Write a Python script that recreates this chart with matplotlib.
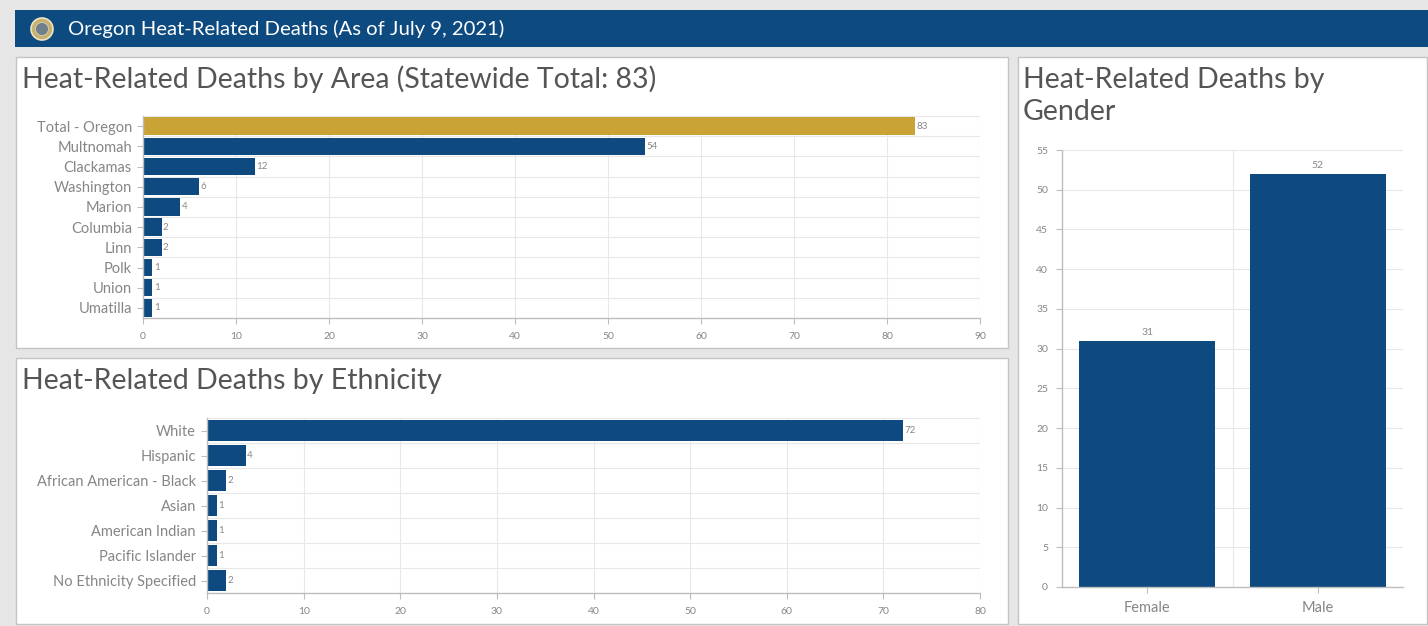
"""
plot.py
=======
Oregon heat-related deaths dashboard (as of July 9, 2021).
"""

import matplotlib
matplotlib.use("Agg")
import matplotlib.pyplot as plt
from matplotlib.patches import Rectangle, Ellipse


# ---------------------------------------------------------------------------
# Data
# ---------------------------------------------------------------------------

area_names = ["Total - Oregon", "Multnomah", "Clackamas", "Washington", "Marion",
              "Columbia", "Linn", "Polk", "Union", "Umatilla"]
area_deaths = [83, 54, 12, 6, 4, 2, 2, 1, 1, 1]

ethnicity_names = ["White", "Hispanic", "African American - Black", "Asian",
                   "American Indian", "Pacific Islander", "No Ethnicity Specified"]
ethnicity_deaths = [72, 4, 2, 1, 1, 1, 2]

gender_names = ["Female", "Male"]
gender_deaths = [31, 52]

area_ticks = list(range(0, 91, 10))
ethnicity_ticks = list(range(0, 81, 10))
gender_ticks = list(range(0, 56, 5))


# ---------------------------------------------------------------------------
# Styling
# ---------------------------------------------------------------------------

W, H = 1428, 626
BLUE = "#0e4a7f"
GOLD = "#c9a336"
BG = "#e6e6e6"
TITLE_C = "#555555"
LABEL_C = "#868686"
GRID_C = "#e8e8e8"
SPINE_C = "#bdbdbd"

plt.rcParams["font.family"] = ["Lato", "DejaVu Sans"]


def box(x0, y0, x1, y1):
    """Pixel box (top-left origin) -> figure rect [left, bottom, width, height]."""
    return [x0 / W, 1 - y1 / H, (x1 - x0) / W, (y1 - y0) / H]


def panel(fig, x0, y0, x1, y1):
    l, b, w, h = box(x0, y0, x1, y1)
    fig.patches.append(Rectangle((l, b), w, h, transform=fig.transFigure,
                                 facecolor="white", edgecolor="#c4c4c4",
                                 linewidth=1, zorder=-2))


def style_axes(ax):
    ax.set_facecolor("none")
    for side in ("top", "right"):
        ax.spines[side].set_visible(False)
    for side in ("left", "bottom"):
        ax.spines[side].set_color(SPINE_C)
        ax.spines[side].set_linewidth(1)
    ax.tick_params(colors=SPINE_C, labelcolor=LABEL_C, length=4, width=0.8)
    ax.set_axisbelow(True)


def hbar_chart(ax, names, values, colors, ticks):
    n = len(names)
    pos = list(range(n))
    ax.barh(pos, values, height=0.86, color=colors, zorder=2)
    ax.set_ylim(n - 0.5, -0.5)
    ax.set_xlim(ticks[0], ticks[-1])
    ax.set_yticks(pos)
    ax.set_yticklabels(names, fontsize=10.5)
    ax.set_xticks(ticks)
    ax.set_xticklabels([str(t) for t in ticks], fontsize=7.5)
    ax.tick_params(axis="x", pad=6)
    ax.tick_params(axis="y", pad=4)
    # vertical grid at x ticks, horizontal grid between categories
    for t in ticks[1:]:
        ax.axvline(t, color=GRID_C, linewidth=0.8, zorder=0)
    for k in range(n):
        ax.axhline(k - 0.5, color=GRID_C, linewidth=0.8, zorder=0)
    for p, v in zip(pos, values):
        ax.text(v + 0.15, p, str(v), va="center", ha="left",
                fontsize=7, color="#888888", zorder=3)
    style_axes(ax)


# ---------------------------------------------------------------------------
# Figure
# ---------------------------------------------------------------------------

fig = plt.figure(figsize=(W / 100, H / 100), dpi=100)
fig.patch.set_facecolor(BG)

# header bar
l, b, w, h = box(15, 10, 1428, 47)
fig.patches.append(Rectangle((l, b), w, h, transform=fig.transFigure,
                             facecolor="#0d4a80", edgecolor="none", zorder=-2))
fig.patches.append(Ellipse((42 / W, 1 - 29 / H), 22 / W, 22 / H,
                           transform=fig.transFigure, facecolor="#c8b070",
                           edgecolor="#ece4c4", linewidth=1.2, zorder=-1))
fig.patches.append(Ellipse((42 / W, 1 - 29 / H), 13 / W, 13 / H,
                           transform=fig.transFigure, facecolor="#6f7f8c",
                           edgecolor="#d8d0b0", linewidth=0.6, zorder=-1))
fig.text(68 / W, 1 - 29 / H, "Oregon Heat-Related Deaths (As of July 9, 2021)",
         color="white", fontsize=14.6, va="center", ha="left")

# panels
panel(fig, 16, 57, 1008, 348)
panel(fig, 16, 358, 1008, 624)
panel(fig, 1018, 57, 1427, 624)

# panel titles
fig.text(22 / W, 1 - 79 / H, "Heat-Related Deaths by Area (Statewide Total: 83)",
         color=TITLE_C, fontsize=20.5, va="center", ha="left")
fig.text(22 / W, 1 - 381 / H, "Heat-Related Deaths by Ethnicity",
         color=TITLE_C, fontsize=20.5, va="center", ha="left")
fig.text(1023 / W, 1 - 96 / H, "Heat-Related Deaths by\nGender",
         color=TITLE_C, fontsize=20.5, va="center", ha="left", linespacing=1.3)

# area chart
ax1 = fig.add_axes(box(143, 116, 980, 318))
hbar_chart(ax1, area_names, area_deaths,
           [GOLD] + [BLUE] * (len(area_names) - 1), area_ticks)

# ethnicity chart
ax2 = fig.add_axes(box(207, 418, 980, 593))
hbar_chart(ax2, ethnicity_names, ethnicity_deaths,
           [BLUE] * len(ethnicity_names), ethnicity_ticks)

# gender chart
ax3 = fig.add_axes(box(1062, 150, 1403, 587))
gpos = list(range(len(gender_names)))
ax3.bar(gpos, gender_deaths, width=0.8, color=BLUE, zorder=2)
ax3.set_xlim(-0.5, len(gender_names) - 0.5)
ax3.set_ylim(gender_ticks[0], gender_ticks[-1])
ax3.set_yticks(gender_ticks)
ax3.set_yticklabels([str(t) for t in gender_ticks], fontsize=7.5)
ax3.set_xticks(gpos)
ax3.set_xticklabels(gender_names, fontsize=10.5)
ax3.tick_params(axis="x", pad=6)
ax3.tick_params(axis="y", pad=6)
for t in gender_ticks[1:]:
    ax3.axhline(t, color=GRID_C, linewidth=0.8, zorder=0)
for k in range(1, len(gender_names)):
    ax3.axvline(k - 0.5, color=GRID_C, linewidth=0.8, zorder=0)
for p, v in zip(gpos, gender_deaths):
    ax3.text(p, v + 0.5, str(v), ha="center", va="bottom",
             fontsize=7.5, color="#888888", zorder=3)
style_axes(ax3)

fig.savefig("out.png", dpi=100, facecolor=fig.get_facecolor())
